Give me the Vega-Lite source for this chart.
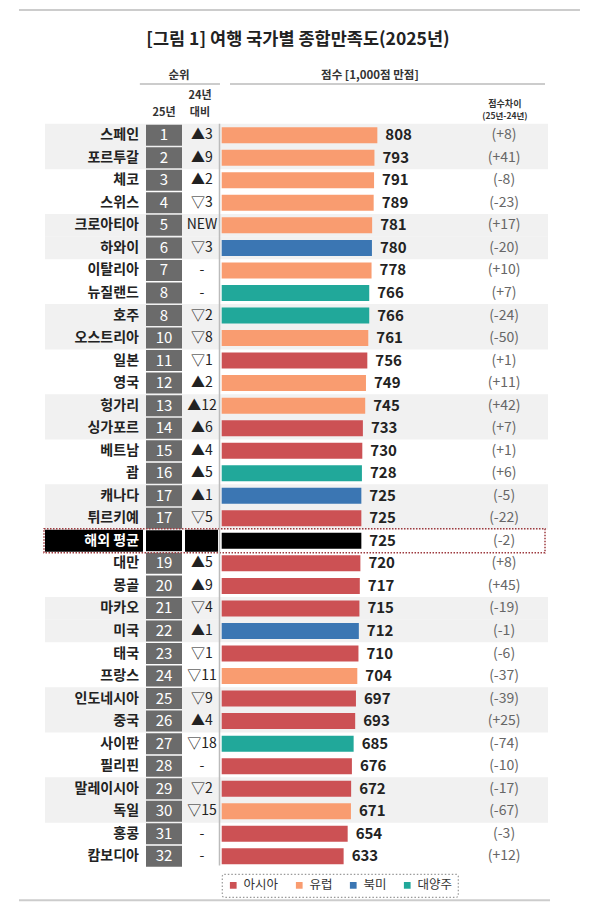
{
  "$schema": "https://vega.github.io/schema/vega-lite/v6.json",
  "width": 600,
  "height": 912,
  "autosize": {"type": "none"},
  "padding": 0,
  "background": "white",
  "config": {
    "view": {"stroke": null},
    "axis": {"disable": true},
    "text": {"font": "Noto Sans CJK KR"},
    "legend": {"labelFont": "Noto Sans CJK KR", "strokeWidth": 1.2, "strokeColor": "#999", "strokeDash": [1.5, 2]}
  },
  "datasets": {
    "rows": [
      {"order": 1, "country": "스페인", "rank": 1, "change": "▲3", "score": 808, "diff": "(+8)", "region": "유럽"},
      {"order": 2, "country": "포르투갈", "rank": 2, "change": "▲9", "score": 793, "diff": "(+41)", "region": "유럽"},
      {"order": 3, "country": "체코", "rank": 3, "change": "▲2", "score": 791, "diff": "(-8)", "region": "유럽"},
      {"order": 4, "country": "스위스", "rank": 4, "change": "▽3", "score": 789, "diff": "(-23)", "region": "유럽"},
      {"order": 5, "country": "크로아티아", "rank": 5, "change": "NEW", "score": 781, "diff": "(+17)", "region": "유럽"},
      {"order": 6, "country": "하와이", "rank": 6, "change": "▽3", "score": 780, "diff": "(-20)", "region": "북미"},
      {"order": 7, "country": "이탈리아", "rank": 7, "change": "-", "score": 778, "diff": "(+10)", "region": "유럽"},
      {"order": 8, "country": "뉴질랜드", "rank": 8, "change": "-", "score": 766, "diff": "(+7)", "region": "대양주"},
      {"order": 9, "country": "호주", "rank": 8, "change": "▽2", "score": 766, "diff": "(-24)", "region": "대양주"},
      {"order": 10, "country": "오스트리아", "rank": 10, "change": "▽8", "score": 761, "diff": "(-50)", "region": "유럽"},
      {"order": 11, "country": "일본", "rank": 11, "change": "▽1", "score": 756, "diff": "(+1)", "region": "아시아"},
      {"order": 12, "country": "영국", "rank": 12, "change": "▲2", "score": 749, "diff": "(+11)", "region": "유럽"},
      {"order": 13, "country": "헝가리", "rank": 13, "change": "▲12", "score": 745, "diff": "(+42)", "region": "유럽"},
      {"order": 14, "country": "싱가포르", "rank": 14, "change": "▲6", "score": 733, "diff": "(+7)", "region": "아시아"},
      {"order": 15, "country": "베트남", "rank": 15, "change": "▲4", "score": 730, "diff": "(+1)", "region": "아시아"},
      {"order": 16, "country": "괌", "rank": 16, "change": "▲5", "score": 728, "diff": "(+6)", "region": "대양주"},
      {"order": 17, "country": "캐나다", "rank": 17, "change": "▲1", "score": 725, "diff": "(-5)", "region": "북미"},
      {"order": 18, "country": "튀르키예", "rank": 17, "change": "▽5", "score": 725, "diff": "(-22)", "region": "아시아"},
      {"order": 19, "country": "해외 평균", "rank": null, "change": null, "score": 725, "diff": "(-2)", "region": "평균"},
      {"order": 20, "country": "대만", "rank": 19, "change": "▲5", "score": 720, "diff": "(+8)", "region": "아시아"},
      {"order": 21, "country": "몽골", "rank": 20, "change": "▲9", "score": 717, "diff": "(+45)", "region": "아시아"},
      {"order": 22, "country": "마카오", "rank": 21, "change": "▽4", "score": 715, "diff": "(-19)", "region": "아시아"},
      {"order": 23, "country": "미국", "rank": 22, "change": "▲1", "score": 712, "diff": "(-1)", "region": "북미"},
      {"order": 24, "country": "태국", "rank": 23, "change": "▽1", "score": 710, "diff": "(-6)", "region": "아시아"},
      {"order": 25, "country": "프랑스", "rank": 24, "change": "▽11", "score": 704, "diff": "(-37)", "region": "유럽"},
      {"order": 26, "country": "인도네시아", "rank": 25, "change": "▽9", "score": 697, "diff": "(-39)", "region": "아시아"},
      {"order": 27, "country": "중국", "rank": 26, "change": "▲4", "score": 693, "diff": "(+25)", "region": "아시아"},
      {"order": 28, "country": "사이판", "rank": 27, "change": "▽18", "score": 685, "diff": "(-74)", "region": "대양주"},
      {"order": 29, "country": "필리핀", "rank": 28, "change": "-", "score": 676, "diff": "(-10)", "region": "아시아"},
      {"order": 30, "country": "말레이시아", "rank": 29, "change": "▽2", "score": 672, "diff": "(-17)", "region": "아시아"},
      {"order": 31, "country": "독일", "rank": 30, "change": "▽15", "score": 671, "diff": "(-67)", "region": "유럽"},
      {"order": 32, "country": "홍콩", "rank": 31, "change": "-", "score": 654, "diff": "(-3)", "region": "아시아"},
      {"order": 33, "country": "캄보디아", "rank": 32, "change": "-", "score": 633, "diff": "(+12)", "region": "아시아"}
    ]
  },
  "layer": [
    {
      "data": {"name": "rows"},
      "transform": [{"filter": "indexof([1,2,5,6,9,10,13,14,17,18,22,23,26,27,30,31], datum.order) >= 0"}],
      "mark": {"type": "bar", "orient": "horizontal", "height": 22.8, "color": "#f1f1f1"},
      "encoding": {
        "x": {"datum": -917.4, "type": "quantitative", "scale": {"domain": [-1151, 1964], "nice": false, "zero": false}},
        "x2": {"datum": 1694},
        "y": {"field": "order", "type": "quantitative", "scale": {"domain": [-4.78, 35.25], "reverse": true, "nice": false, "zero": false}}
      }
    },
    {
      "data": {"name": "rows"},
      "transform": [{"filter": "datum.region === '평균'"}],
      "mark": {"type": "bar", "orient": "horizontal", "height": 22, "color": "black"},
      "encoding": {
        "x": {"datum": -917.4, "type": "quantitative"},
        "x2": {"datum": -408.6},
        "y": {"field": "order", "type": "quantitative"}
      }
    },
    {
      "data": {"name": "rows"},
      "transform": [{"filter": "datum.region === '평균'"}],
      "mark": {"type": "bar", "orient": "horizontal", "height": 22, "color": "black"},
      "encoding": {
        "x": {"datum": -190.5, "type": "quantitative"},
        "x2": {"datum": -19.2},
        "y": {"field": "order", "type": "quantitative"}
      }
    },
    {
      "data": {"name": "rows"},
      "mark": {"type": "bar", "orient": "horizontal", "height": 21},
      "encoding": {
        "x": {"datum": -393, "type": "quantitative"},
        "x2": {"datum": -206.1},
        "y": {"field": "order", "type": "quantitative"},
        "color": {"condition": {"test": "datum.region === '평균'", "value": "black"}, "value": "#6b6b6b"}
      }
    },
    {
      "data": {"name": "rows"},
      "mark": {"type": "bar", "orient": "horizontal", "height": 16},
      "encoding": {
        "x": {"field": "score", "type": "quantitative", "stack": null},
        "y": {"field": "order", "type": "quantitative"},
        "color": {
          "condition": {"test": "datum.region === '평균'", "value": "black"},
          "field": "region",
          "type": "nominal",
          "scale": {"domain": ["아시아", "유럽", "북미", "대양주"], "range": ["#cc5154", "#f99c70", "#3b76b3", "#21a89a"]},
          "legend": {
            "title": null,
            "orient": "none",
            "legendX": 222,
            "legendY": 874,
            "direction": "horizontal",
            "symbolType": "square",
            "symbolSize": 45,
            "symbolStrokeWidth": 0,
            "labelFontSize": 12.5,
            "labelColor": "#333",
            "columnPadding": 14,
            "labelOffset": 4,
            "padding": 5,
            "cornerRadius": 2
          }
        }
      }
    },
    {
      "data": {"name": "rows"},
      "transform": [{"filter": "datum.region === '평균'"}],
      "mark": {"type": "bar", "orient": "horizontal", "height": 24, "fill": null, "fillOpacity": 0, "stroke": "#9e3a3f", "strokeWidth": 1.5, "strokeDash": [1.5, 1.5]},
      "encoding": {
        "x": {"datum": -922.6, "type": "quantitative"},
        "x2": {"datum": 1678.5},
        "y": {"field": "order", "type": "quantitative"}
      }
    },
    {
      "data": {"name": "rows"},
      "mark": {"type": "text", "align": "right", "baseline": "middle", "fontSize": 14, "fontWeight": "bold"},
      "encoding": {
        "x": {"datum": -429.3, "type": "quantitative"},
        "y": {"field": "order", "type": "quantitative"},
        "text": {"field": "country"},
        "color": {"condition": {"test": "datum.region === '평균'", "value": "white"}, "value": "#222"}
      }
    },
    {
      "data": {"name": "rows"},
      "transform": [{"filter": "datum.rank != null"}],
      "mark": {"type": "text", "align": "center", "baseline": "middle", "fontSize": 15, "color": "white"},
      "encoding": {
        "x": {"datum": -299.6, "type": "quantitative"},
        "y": {"field": "order", "type": "quantitative"},
        "text": {"field": "rank"}
      }
    },
    {
      "data": {"name": "rows"},
      "transform": [{"filter": "datum.change != null"}],
      "mark": {"type": "text", "align": "center", "baseline": "middle", "fontSize": 14, "color": "#222"},
      "encoding": {
        "x": {"datum": -102.3, "type": "quantitative"},
        "y": {"field": "order", "type": "quantitative"},
        "text": {"field": "change"}
      }
    },
    {
      "data": {"name": "rows"},
      "mark": {"type": "text", "align": "left", "baseline": "middle", "dx": 8, "fontSize": 15, "fontWeight": "bold", "color": "#222"},
      "encoding": {
        "x": {"field": "score", "type": "quantitative"},
        "y": {"field": "order", "type": "quantitative"},
        "text": {"field": "score"}
      }
    },
    {
      "data": {"name": "rows"},
      "mark": {"type": "text", "align": "center", "baseline": "middle", "fontSize": 14, "color": "#666"},
      "encoding": {
        "x": {"datum": 1466, "type": "quantitative"},
        "y": {"field": "order", "type": "quantitative"},
        "text": {"field": "diff"}
      }
    },
    {
      "data": {"values": [{}]},
      "mark": {"type": "rule", "color": "#bbbbbb", "strokeWidth": 1.5},
      "encoding": {
        "x": {"datum": -11.4, "type": "quantitative"},
        "y": {"datum": 0.486, "type": "quantitative"},
        "y2": {"datum": 33.41}
      }
    },
    {
      "data": {"values": [{}]},
      "mark": {"type": "rule", "color": "#cccccc", "strokeWidth": 2},
      "encoding": {
        "x": {"datum": -1052.5, "type": "quantitative"},
        "x2": {"datum": 1860},
        "y": {"datum": -4.562, "type": "quantitative"}
      }
    },
    {
      "data": {"values": [{}]},
      "mark": {"type": "rule", "color": "#cccccc", "strokeWidth": 2},
      "encoding": {
        "x": {"datum": -1052.5, "type": "quantitative"},
        "x2": {"datum": 1704.5},
        "y": {"datum": 34.95, "type": "quantitative"}
      }
    },
    {
      "data": {"values": [{}]},
      "mark": {"type": "rule", "color": "#bbbbbb", "strokeWidth": 1.5},
      "encoding": {
        "x": {"datum": -425, "type": "quantitative"},
        "x2": {"datum": -9},
        "y": {"datum": -1.27, "type": "quantitative"}
      }
    },
    {
      "data": {"values": [{}]},
      "mark": {"type": "rule", "color": "#bbbbbb", "strokeWidth": 1.5},
      "encoding": {
        "x": {"datum": 43, "type": "quantitative"},
        "x2": {"datum": 1678.5},
        "y": {"datum": -1.27, "type": "quantitative"}
      }
    },
    {
      "data": {"values": [{}]},
      "mark": {"type": "text", "align": "center", "baseline": "middle", "fontSize": 17.5, "fontWeight": "bold", "color": "#222"},
      "encoding": {
        "x": {"datum": 396, "type": "quantitative"},
        "y": {"datum": -3.245, "type": "quantitative"},
        "text": {"value": "[그림 1] 여행 국가별 종합만족도(2025년)"}
      }
    },
    {
      "data": {"values": [{}]},
      "mark": {"type": "text", "align": "center", "baseline": "middle", "fontSize": 11.5, "fontWeight": "bold", "color": "#333"},
      "encoding": {
        "x": {"datum": -221.7, "type": "quantitative"},
        "y": {"datum": -1.65, "type": "quantitative"},
        "text": {"value": "순위"}
      }
    },
    {
      "data": {"values": [{}]},
      "mark": {"type": "text", "align": "center", "baseline": "middle", "fontSize": 11.5, "fontWeight": "bold", "color": "#333"},
      "encoding": {
        "x": {"datum": 769.5, "type": "quantitative"},
        "y": {"datum": -1.65, "type": "quantitative"},
        "text": {"value": "점수 [1,000점 만점]"}
      }
    },
    {
      "data": {"values": [{}]},
      "mark": {"type": "text", "align": "center", "baseline": "middle", "fontSize": 11, "fontWeight": "bold", "color": "#333"},
      "encoding": {
        "x": {"datum": -299.6, "type": "quantitative"},
        "y": {"datum": 0.0, "type": "quantitative"},
        "text": {"value": "25년"}
      }
    },
    {
      "data": {"values": [{}]},
      "mark": {"type": "text", "align": "center", "baseline": "middle", "fontSize": 11, "fontWeight": "bold", "color": "#333"},
      "encoding": {
        "x": {"datum": -112.7, "type": "quantitative"},
        "y": {"datum": -0.72, "type": "quantitative"},
        "text": {"value": "24년"}
      }
    },
    {
      "data": {"values": [{}]},
      "mark": {"type": "text", "align": "center", "baseline": "middle", "fontSize": 11, "fontWeight": "bold", "color": "#333"},
      "encoding": {
        "x": {"datum": -112.7, "type": "quantitative"},
        "y": {"datum": 0.0, "type": "quantitative"},
        "text": {"value": "대비"}
      }
    },
    {
      "data": {"values": [{}]},
      "mark": {"type": "text", "align": "center", "baseline": "middle", "fontSize": 9, "fontWeight": "bold", "color": "#333"},
      "encoding": {
        "x": {"datum": 1470, "type": "quantitative"},
        "y": {"datum": -0.392, "type": "quantitative"},
        "text": {"value": "점수차이"}
      }
    },
    {
      "data": {"values": [{}]},
      "mark": {"type": "text", "align": "center", "baseline": "middle", "fontSize": 8.5, "fontWeight": "bold", "color": "#333"},
      "encoding": {
        "x": {"datum": 1470, "type": "quantitative"},
        "y": {"datum": 0.135, "type": "quantitative"},
        "text": {"value": "(25년-24년)"}
      }
    }
  ]
}
